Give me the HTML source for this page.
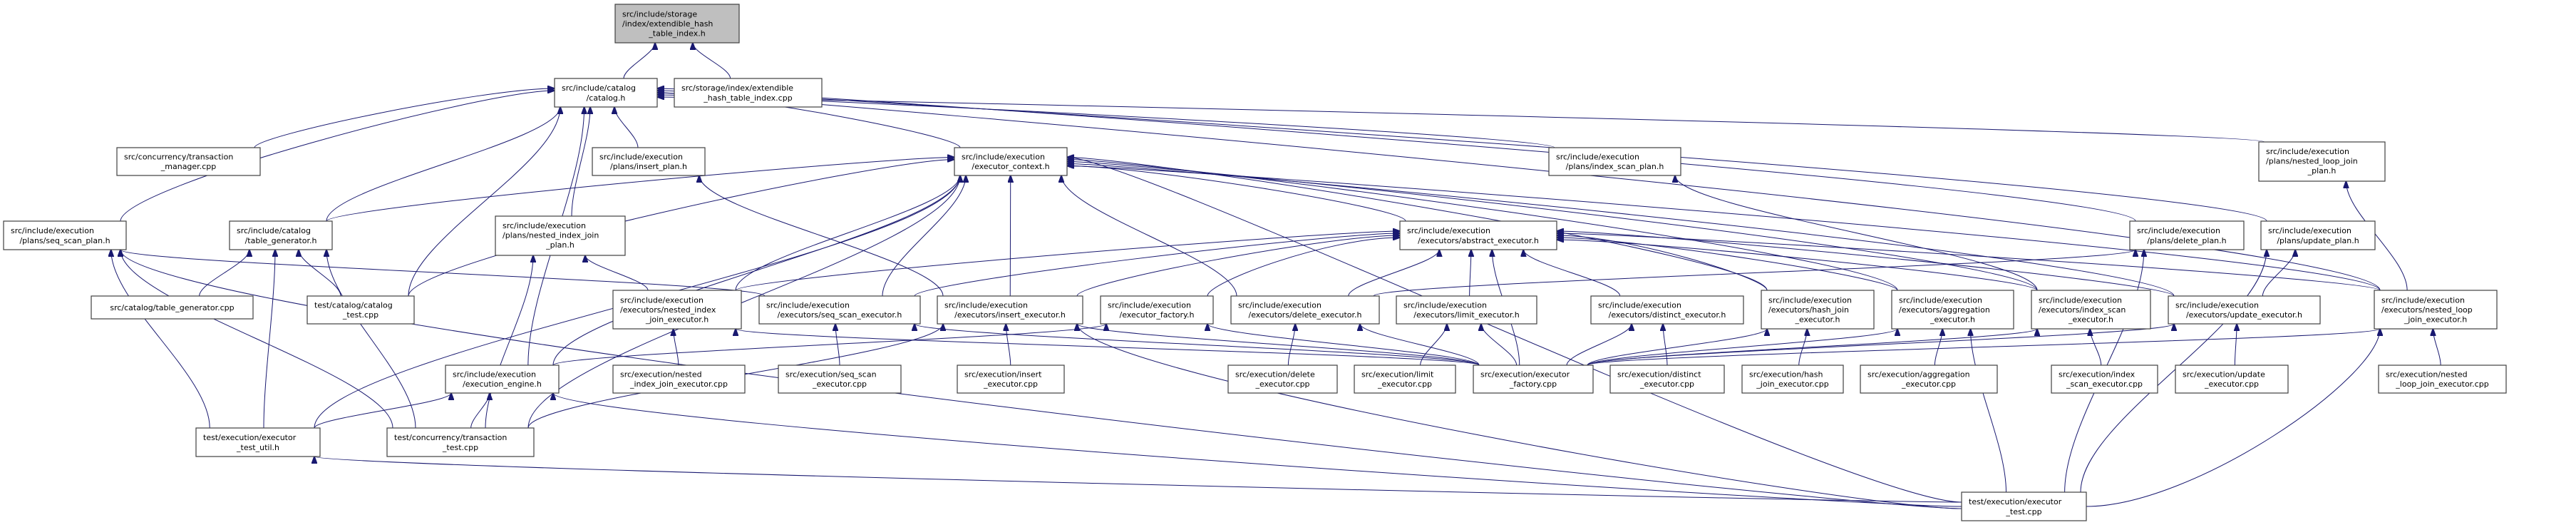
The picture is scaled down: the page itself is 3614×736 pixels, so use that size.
<!DOCTYPE html>
<html><head><meta charset="utf-8"><style>
html,body{margin:0;padding:0;background:#fff;}
svg{display:block;}
text{font-family:"DejaVu Sans","Liberation Sans",sans-serif;font-size:11px;fill:#000;}
rect{fill:#fff;stroke:#404040;stroke-width:1.2;}
.e{fill:none;stroke:#191970;stroke-width:1;}
</style></head><body>
<svg id="s" width="3614" height="736" viewBox="0 0 3614 736" xmlns="http://www.w3.org/2000/svg">
<defs><marker id="a" markerUnits="userSpaceOnUse" markerWidth="11" markerHeight="8" refX="10" refY="4" orient="auto"><path d="M0,0 L11,4 L0,8 z" fill="#191970" stroke="#191970"/></marker></defs>
<g id="edges"></g>
<g id="nodes">
<rect x="863" y="6" width="174" height="54" style="fill:#bfbfbf"/><text><tspan x="873" y="23.5">src/include/storage</tspan><tspan x="873" y="37">/index/extendible_hash</tspan><tspan x="950" y="50.5" text-anchor="middle">_table_index.h</tspan></text>
<rect x="778" y="110" width="144" height="40"/><text><tspan x="788" y="127">src/include/catalog</tspan><tspan x="850" y="141" text-anchor="middle">/catalog.h</tspan></text>
<rect x="946" y="110" width="207" height="40"/><text><tspan x="956" y="127">src/storage/index/extendible</tspan><tspan x="1049.5" y="141" text-anchor="middle">_hash_table_index.cpp</tspan></text>
<rect x="164" y="207" width="201" height="39"/><text><tspan x="174" y="223.5">src/concurrency/transaction</tspan><tspan x="264.5" y="237" text-anchor="middle">_manager.cpp</tspan></text>
<rect x="831" y="207" width="158" height="39"/><text><tspan x="841" y="223.5">src/include/execution</tspan><tspan x="910" y="237" text-anchor="middle">/plans/insert_plan.h</tspan></text>
<rect x="1339" y="207" width="158" height="39"/><text><tspan x="1349" y="223.5">src/include/execution</tspan><tspan x="1418" y="237" text-anchor="middle">/executor_context.h</tspan></text>
<rect x="2173" y="207" width="185" height="39"/><text><tspan x="2183" y="223.5">src/include/execution</tspan><tspan x="2265.5" y="237" text-anchor="middle">/plans/index_scan_plan.h</tspan></text>
<rect x="3169" y="199" width="177" height="55"/><text><tspan x="3179" y="216">src/include/execution</tspan><tspan x="3179" y="229.5">/plans/nested_loop_join</tspan><tspan x="3257.5" y="243" text-anchor="middle">_plan.h</tspan></text>
<rect x="5" y="310" width="172" height="40"/><text><tspan x="15" y="327">src/include/execution</tspan><tspan x="91" y="341" text-anchor="middle">/plans/seq_scan_plan.h</tspan></text>
<rect x="322" y="310" width="144" height="40"/><text><tspan x="332" y="327">src/include/catalog</tspan><tspan x="394" y="341" text-anchor="middle">/table_generator.h</tspan></text>
<rect x="695" y="303" width="182" height="55"/><text><tspan x="705" y="320">src/include/execution</tspan><tspan x="705" y="333.5">/plans/nested_index_join</tspan><tspan x="786" y="347" text-anchor="middle">_plan.h</tspan></text>
<rect x="1964" y="310" width="220" height="40"/><text><tspan x="1974" y="327">src/include/execution</tspan><tspan x="2074" y="341" text-anchor="middle">/executors/abstract_executor.h</tspan></text>
<rect x="2988" y="310" width="160" height="40"/><text><tspan x="2998" y="327">src/include/execution</tspan><tspan x="3068" y="341" text-anchor="middle">/plans/delete_plan.h</tspan></text>
<rect x="3172" y="310" width="160" height="40"/><text><tspan x="3182" y="327">src/include/execution</tspan><tspan x="3252" y="341" text-anchor="middle">/plans/update_plan.h</tspan></text>
<rect x="128" y="415" width="227" height="32"/><text><tspan x="241.5" y="435" text-anchor="middle">src/catalog/table_generator.cpp</tspan></text>
<rect x="431" y="415" width="150" height="39"/><text><tspan x="441" y="431.5">test/catalog/catalog</tspan><tspan x="506" y="445" text-anchor="middle">_test.cpp</tspan></text>
<rect x="860" y="407" width="180" height="54"/><text><tspan x="870" y="424.5">src/include/execution</tspan><tspan x="870" y="438">/executors/nested_index</tspan><tspan x="950" y="451.5" text-anchor="middle">_join_executor.h</tspan></text>
<rect x="1065" y="415" width="226" height="39"/><text><tspan x="1075" y="431.5">src/include/execution</tspan><tspan x="1178" y="445" text-anchor="middle">/executors/seq_scan_executor.h</tspan></text>
<rect x="1315" y="415" width="204" height="39"/><text><tspan x="1325" y="431.5">src/include/execution</tspan><tspan x="1417" y="445" text-anchor="middle">/executors/insert_executor.h</tspan></text>
<rect x="1544" y="415" width="158" height="39"/><text><tspan x="1554" y="431.5">src/include/execution</tspan><tspan x="1623" y="445" text-anchor="middle">/executor_factory.h</tspan></text>
<rect x="1727" y="415" width="208" height="39"/><text><tspan x="1737" y="431.5">src/include/execution</tspan><tspan x="1831" y="445" text-anchor="middle">/executors/delete_executor.h</tspan></text>
<rect x="1959" y="415" width="197" height="39"/><text><tspan x="1969" y="431.5">src/include/execution</tspan><tspan x="2057.5" y="445" text-anchor="middle">/executors/limit_executor.h</tspan></text>
<rect x="2232" y="415" width="214" height="39"/><text><tspan x="2242" y="431.5">src/include/execution</tspan><tspan x="2339" y="445" text-anchor="middle">/executors/distinct_executor.h</tspan></text>
<rect x="2471" y="407" width="158" height="54"/><text><tspan x="2481" y="424.5">src/include/execution</tspan><tspan x="2481" y="438">/executors/hash_join</tspan><tspan x="2550" y="451.5" text-anchor="middle">_executor.h</tspan></text>
<rect x="2654" y="407" width="171" height="54"/><text><tspan x="2664" y="424.5">src/include/execution</tspan><tspan x="2664" y="438">/executors/aggregation</tspan><tspan x="2739.5" y="451.5" text-anchor="middle">_executor.h</tspan></text>
<rect x="2850" y="407" width="167" height="54"/><text><tspan x="2860" y="424.5">src/include/execution</tspan><tspan x="2860" y="438">/executors/index_scan</tspan><tspan x="2933.5" y="451.5" text-anchor="middle">_executor.h</tspan></text>
<rect x="3042" y="415" width="213" height="39"/><text><tspan x="3052" y="431.5">src/include/execution</tspan><tspan x="3148.5" y="445" text-anchor="middle">/executors/update_executor.h</tspan></text>
<rect x="3331" y="407" width="172" height="54"/><text><tspan x="3341" y="424.5">src/include/execution</tspan><tspan x="3341" y="438">/executors/nested_loop</tspan><tspan x="3417" y="451.5" text-anchor="middle">_join_executor.h</tspan></text>
<rect x="625" y="512" width="159" height="39"/><text><tspan x="635" y="528.5">src/include/execution</tspan><tspan x="704.5" y="542" text-anchor="middle">/execution_engine.h</tspan></text>
<rect x="860" y="512" width="185" height="39"/><text><tspan x="870" y="528.5">src/execution/nested</tspan><tspan x="952.5" y="542" text-anchor="middle">_index_join_executor.cpp</tspan></text>
<rect x="1092" y="512" width="172" height="39"/><text><tspan x="1102" y="528.5">src/execution/seq_scan</tspan><tspan x="1178" y="542" text-anchor="middle">_executor.cpp</tspan></text>
<rect x="1343" y="512" width="150" height="39"/><text><tspan x="1353" y="528.5">src/execution/insert</tspan><tspan x="1418" y="542" text-anchor="middle">_executor.cpp</tspan></text>
<rect x="1723" y="512" width="153" height="39"/><text><tspan x="1733" y="528.5">src/execution/delete</tspan><tspan x="1799.5" y="542" text-anchor="middle">_executor.cpp</tspan></text>
<rect x="1900" y="512" width="142" height="39"/><text><tspan x="1910" y="528.5">src/execution/limit</tspan><tspan x="1971" y="542" text-anchor="middle">_executor.cpp</tspan></text>
<rect x="2067" y="512" width="168" height="39"/><text><tspan x="2077" y="528.5">src/execution/executor</tspan><tspan x="2151" y="542" text-anchor="middle">_factory.cpp</tspan></text>
<rect x="2259" y="512" width="160" height="39"/><text><tspan x="2269" y="528.5">src/execution/distinct</tspan><tspan x="2339" y="542" text-anchor="middle">_executor.cpp</tspan></text>
<rect x="2444" y="512" width="142" height="39"/><text><tspan x="2454" y="528.5">src/execution/hash</tspan><tspan x="2515" y="542" text-anchor="middle">_join_executor.cpp</tspan></text>
<rect x="2610" y="512" width="192" height="39"/><text><tspan x="2620" y="528.5">src/execution/aggregation</tspan><tspan x="2706" y="542" text-anchor="middle">_executor.cpp</tspan></text>
<rect x="2878" y="512" width="149" height="39"/><text><tspan x="2888" y="528.5">src/execution/index</tspan><tspan x="2952.5" y="542" text-anchor="middle">_scan_executor.cpp</tspan></text>
<rect x="3052" y="512" width="158" height="39"/><text><tspan x="3062" y="528.5">src/execution/update</tspan><tspan x="3131" y="542" text-anchor="middle">_executor.cpp</tspan></text>
<rect x="3337" y="512" width="179" height="39"/><text><tspan x="3347" y="528.5">src/execution/nested</tspan><tspan x="3426.5" y="542" text-anchor="middle">_loop_join_executor.cpp</tspan></text>
<rect x="275" y="600" width="174" height="40"/><text><tspan x="285" y="617">test/execution/executor</tspan><tspan x="362" y="631" text-anchor="middle">_test_util.h</tspan></text>
<rect x="543" y="600" width="206" height="40"/><text><tspan x="553" y="617">test/concurrency/transaction</tspan><tspan x="646" y="631" text-anchor="middle">_test.cpp</tspan></text>
<rect x="2752" y="690" width="175" height="40"/><text><tspan x="2762" y="707">test/execution/executor</tspan><tspan x="2839.5" y="721" text-anchor="middle">_test.cpp</tspan></text>
</g>
</svg>
<script>
var B={1:[863,6,1037,60],2:[778,110,922,150],3:[946,110,1153,150],4:[164,207,365,246],5:[831,207,989,246],6:[1339,207,1497,246],7:[2173,207,2358,246],8:[3169,199,3346,254],9:[5,310,177,350],10:[322,310,466,350],11:[695,303,877,358],12:[1964,310,2184,350],13:[2988,310,3148,350],14:[3172,310,3332,350],15:[128,415,355,447],16:[431,415,581,454],17:[860,407,1040,461],18:[1065,415,1291,454],19:[1315,415,1519,454],20:[1544,415,1702,454],21:[1727,415,1935,454],22:[1959,415,2156,454],23:[2232,415,2446,454],24:[2471,407,2629,461],25:[2654,407,2825,461],26:[2850,407,3017,461],27:[3042,415,3255,454],28:[3331,407,3503,461],29:[625,512,784,551],30:[860,512,1045,551],31:[1092,512,1264,551],32:[1343,512,1493,551],33:[1723,512,1876,551],34:[1900,512,2042,551],35:[2067,512,2235,551],36:[2259,512,2419,551],37:[2444,512,2586,551],38:[2610,512,2802,551],39:[2878,512,3027,551],40:[3052,512,3210,551],41:[3337,512,3516,551],42:[275,600,449,640],43:[543,600,749,640],44:[2752,690,2927,730]};
var E={1:[2,3],2:[4,9,10,16,29,11,5,6,7,8,13,14,28],6:[10,16,42,43,29,17,18,19,21,12,24,25,26,27,28,44],5:[19],11:[17,43],9:[18,42,43,44],10:[15,16,42,43],7:[26],8:[28],13:[21,44],14:[27,44],12:[17,18,19,20,21,22,23,24,25,26,27,28,35],20:[29,35],29:[42,43,44],42:[44],19:[32,35,43,44],18:[31,35],17:[30,35],21:[33,35],22:[34,35],23:[36,35],24:[37,35],25:[38,35,44],26:[39,35],27:[40,35],28:[41,35,44]};
var SIDE={2:1,6:1,12:1};
var g=document.getElementById('edges'),h='';
function cl(v,a,b){return Math.max(a,Math.min(b,v));}
for(var p in E){var P=B[p];E[p].forEach(function(c,i){var C=B[c];
 var pcx=(P[0]+P[2])/2,ccx=(C[0]+C[2])/2,pcy=(P[1]+P[3])/2,ccy=(C[1]+C[3])/2;
 var dy=C[1]-P[3],ex,ey,sx,sy,c1x,c1y,c2x,c2y,off=(i%5-2)*3;
 if(SIDE[p]&&ccx<P[0]-3*dy){ex=P[0];ey=cl(pcy+off,P[1]+4,P[3]-4);c2x=ex-100;c2y=ey;}
 else if(SIDE[p]&&ccx>P[2]+3*dy){ex=P[2];ey=cl(pcy+off,P[1]+4,P[3]-4);c2x=ex+100;c2y=ey;}
 else{ex=cl(pcx+(ccx-pcx)*0.25+off,P[0]+8,P[2]-8);ey=P[3];c2x=ex;c2y=ey+dy*0.3;}
 if(c==44&&pcx<C[0]-2*dy){sx=C[0];sy=ccy+off;c1x=sx-150;c1y=sy;}
 else if(c==44&&pcx>C[2]+2*dy){sx=C[2];sy=ccy+off;c1x=sx+150;c1y=sy;}
 else{sx=cl(ccx+(pcx-ccx)*0.25,C[0]+8,C[2]-8);sy=C[1];c1x=sx;c1y=sy-dy*0.3;}
 h+='<path class="e" marker-end="url(#a)" d="M'+sx+','+sy+' C'+c1x+','+c1y+' '+c2x+','+c2y+' '+ex+','+ey+'"/>';
});}
g.innerHTML=h;
</script>
</body></html>
